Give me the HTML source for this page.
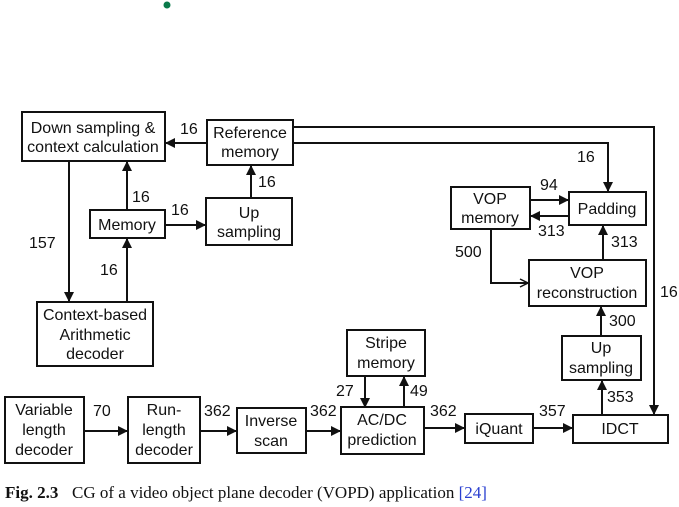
<!DOCTYPE html>
<html><head><meta charset="utf-8"><style>
html,body{margin:0;padding:0;background:#fff;}
svg{display:block;}
text{font-family:"Liberation Sans",Arial,sans-serif;font-size:16px;fill:#111;}
.b{fill:#fff;stroke:#111;stroke-width:2;}
.l{stroke:#111;stroke-width:2;fill:none;}
</style></head><body>
<svg width="679" height="507" viewBox="0 0 679 507" xmlns="http://www.w3.org/2000/svg">
<defs>
<marker id="a" markerWidth="10" markerHeight="10" refX="9" refY="5" orient="auto" markerUnits="userSpaceOnUse"><path d="M0,0 L10,5 L0,10 z" fill="#111"/></marker>
<marker id="o" markerWidth="10" markerHeight="10" refX="9" refY="5" orient="auto" markerUnits="userSpaceOnUse"><path d="M1,1 L9,5 L1,9" fill="none" stroke="#111" stroke-width="1.5"/></marker>
</defs>
<circle cx="167" cy="5" r="3.5" fill="#0a7a4a"/>
<path class="l" d="M207,143 L166,143" marker-end="url(#a)"/>
<path class="l" d="M293,127 L654,127 L654,414" marker-end="url(#a)"/>
<path class="l" d="M293,143 L608,143 L608,191" marker-end="url(#a)"/>
<path class="l" d="M69,161 L69,301" marker-end="url(#a)"/>
<path class="l" d="M127,210 L127,162" marker-end="url(#a)"/>
<path class="l" d="M127,302 L127,239" marker-end="url(#a)"/>
<path class="l" d="M165,225 L205,225" marker-end="url(#a)"/>
<path class="l" d="M251,198 L251,166" marker-end="url(#a)"/>
<path class="l" d="M530,200 L568,200" marker-end="url(#a)"/>
<path class="l" d="M569,216 L531,216" marker-end="url(#a)"/>
<path class="l" d="M491,229 L491,283 L528,283" marker-end="url(#o)"/>
<path class="l" d="M603,260 L603,226" marker-end="url(#a)"/>
<path class="l" d="M601,336 L601,307" marker-end="url(#a)"/>
<path class="l" d="M602,415 L602,381" marker-end="url(#a)"/>
<path class="l" d="M84,431 L127,431" marker-end="url(#a)"/>
<path class="l" d="M200,431 L236,431" marker-end="url(#a)"/>
<path class="l" d="M306,431 L340,431" marker-end="url(#a)"/>
<path class="l" d="M424,428 L464,428" marker-end="url(#a)"/>
<path class="l" d="M533,428 L572,428" marker-end="url(#a)"/>
<path class="l" d="M365,376 L365,407" marker-end="url(#a)"/>
<path class="l" d="M404,407 L404,377" marker-end="url(#a)"/>
<rect class="b" x="22" y="112" width="143" height="49"/>
<text x="93" y="133" text-anchor="middle">Down sampling &amp;</text>
<text x="93" y="152" text-anchor="middle">context calculation</text>
<rect class="b" x="207" y="120" width="86" height="45"/>
<text x="250" y="138" text-anchor="middle">Reference</text>
<text x="250" y="157" text-anchor="middle">memory</text>
<rect class="b" x="90" y="210" width="75" height="28"/>
<text x="127" y="230" text-anchor="middle">Memory</text>
<rect class="b" x="206" y="198" width="86" height="47"/>
<text x="249" y="218" text-anchor="middle">Up</text>
<text x="249" y="237" text-anchor="middle">sampling</text>
<rect class="b" x="37" y="302" width="116" height="64"/>
<text x="95" y="320" text-anchor="middle">Context-based</text>
<text x="95" y="340" text-anchor="middle">Arithmetic</text>
<text x="95" y="359" text-anchor="middle">decoder</text>
<rect class="b" x="451" y="187" width="79" height="42"/>
<text x="490" y="204" text-anchor="middle">VOP</text>
<text x="490" y="223" text-anchor="middle">memory</text>
<rect class="b" x="569" y="192" width="77" height="33"/>
<text x="607" y="214" text-anchor="middle">Padding</text>
<rect class="b" x="529" y="260" width="117" height="46"/>
<text x="587" y="278" text-anchor="middle">VOP</text>
<text x="587" y="298" text-anchor="middle">reconstruction</text>
<rect class="b" x="562" y="336" width="79" height="44"/>
<text x="601" y="353" text-anchor="middle">Up</text>
<text x="601" y="373" text-anchor="middle">sampling</text>
<rect class="b" x="347" y="330" width="78" height="46"/>
<text x="386" y="348" text-anchor="middle">Stripe</text>
<text x="386" y="368" text-anchor="middle">memory</text>
<rect class="b" x="5" y="397" width="79" height="66"/>
<text x="44" y="415" text-anchor="middle">Variable</text>
<text x="44" y="435" text-anchor="middle">length</text>
<text x="44" y="455" text-anchor="middle">decoder</text>
<rect class="b" x="128" y="397" width="72" height="66"/>
<text x="164" y="415" text-anchor="middle">Run-</text>
<text x="164" y="435" text-anchor="middle">length</text>
<text x="164" y="455" text-anchor="middle">decoder</text>
<rect class="b" x="237" y="408" width="69" height="45"/>
<text x="271" y="426" text-anchor="middle">Inverse</text>
<text x="271" y="446" text-anchor="middle">scan</text>
<rect class="b" x="341" y="407" width="83" height="47"/>
<text x="382" y="425" text-anchor="middle">AC/DC</text>
<text x="382" y="445" text-anchor="middle">prediction</text>
<rect class="b" x="465" y="414" width="68" height="29"/>
<text x="499" y="434" text-anchor="middle">iQuant</text>
<rect class="b" x="573" y="415" width="95" height="28"/>
<text x="620" y="434" text-anchor="middle">IDCT</text>
<text x="180" y="134">16</text>
<text x="132" y="202">16</text>
<text x="171" y="215">16</text>
<text x="29" y="248">157</text>
<text x="100" y="275">16</text>
<text x="258" y="187">16</text>
<text x="577" y="162">16</text>
<text x="540" y="190">94</text>
<text x="538" y="236">313</text>
<text x="611" y="247">313</text>
<text x="455" y="257">500</text>
<text x="660" y="297">16</text>
<text x="609" y="326">300</text>
<text x="607" y="402">353</text>
<text x="93" y="416">70</text>
<text x="204" y="416">362</text>
<text x="310" y="416">362</text>
<text x="430" y="416">362</text>
<text x="539" y="416">357</text>
<text x="336" y="396">27</text>
<text x="410" y="396">49</text>
<text x="5" y="498" style="font-family:'Liberation Serif',serif;font-size:17px;font-weight:bold">Fig. 2.3</text>
<text x="72" y="498" style="font-family:'Liberation Serif',serif;font-size:17px">CG of a video object plane decoder (VOPD) application <tspan fill="#2a3fd0">[24]</tspan></text>
</svg>
</body></html>
